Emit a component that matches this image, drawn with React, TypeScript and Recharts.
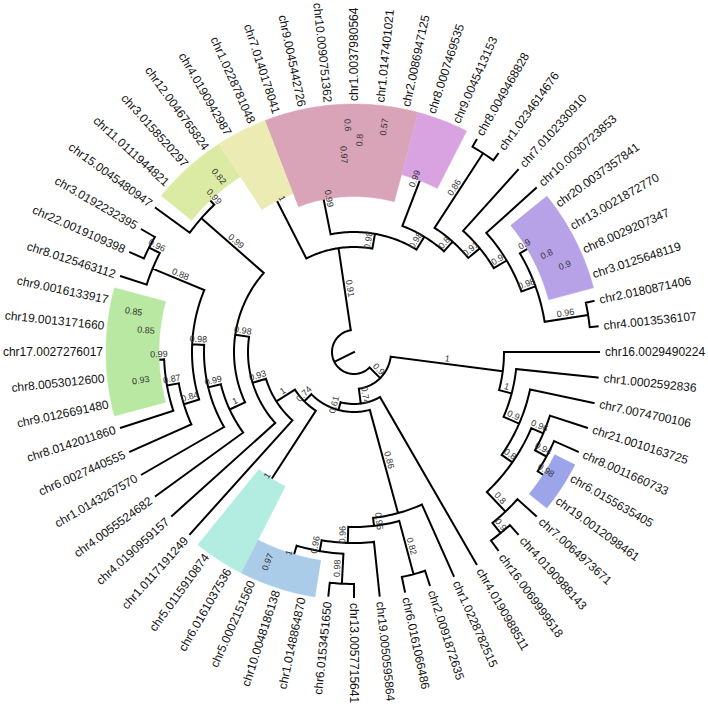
import React from 'react';
import { ComposedChart, Line, Scatter, XAxis, YAxis } from 'recharts';

const leafRadius = 245;
const labelRadius = 251;
const highlightOuter = 248;
const angleStep = 6;
const FONT = '"Liberation Sans", Arial, Helvetica, sans-serif';

// Tree topology: internal nodes written as (children)id|support:radius
const treeNewick = `
(
 (
  (chr16.0029490224,(chr1.0002592836,(chr7.0074700106,((chr21.0010163725,(chr8.0011660733,(chr6.0155635405,chr19.0012098461)U|0.98:232)T|0.94:219)S|0.96:206,(chr7.0064973671,(chr4.0190988143,chr16.0069999518)V|0.9:233)Q|0.8:220)R|0.8:193)N7|0.9:180)N1|1:163)N16|1:150,
  (chr4.0190988511,
   ((chr1.0228782515,((chr2.0091872635,chr6.0161066486)PA|0.82:230,(chr19.0050595864,((chr13.0057715641,chr6.0153451650)Q1|0.98:232,(chr1.0148864870,(chr10.0048186138,chr5.0002151560)P1|0.97:234)B3|1:220)Q3|0.96:202)Q2|0.96:191)Q4|0.95:175)Q5|0.86:167,
    ((chr6.0161037536,chr5.0115910874)TE|1:232,
     (chr1.0117191249,
      (chr4.0190959157,
       ((chr4.0055524682,
         (chr1.0143267570,
          ((chr6.0027440555,(chr8.0142011860,((chr9.0126691480,chr8.0053012600)G93|0.93:230,(chr17.0027276017,(chr19.0013171660,chr9.0016133917)G1|0.85:230)G2|0.85:218)G3|0.99:200)N87|0.87:190)N84|0.84:178,
           (chr8.0125463112,(chr22.0019109398,chr3.0192232395)N96|0.96:230)N88|0.88:218)L1|0.98:162
         )K1|0.99:150
        )K2|1:137,
        (chr15.0045480947,(chr11.0111944821,(chr3.0158520297,chr12.0046765824)C3|0.82:228)C11|0.99:215)C15|0.99:203
       )M|0.98:120
      )W4|0.93:106
     )W3|1:92
    )W2|0.74:70
   )W1|0.61:60
  )B2|0.74:52
 )B|0.9:37,
 (
  (chr4.0190942987,chr1.0228781048)Y1|1:234,
  ((chr7.0140178041,(chr9.0045442726,((chr10.0090751362,chr1.0037980564)PP1|0.6:234,(chr1.0147401021,chr2.0086947125)PP2|0.57:234)P8|0.8:220)P97|0.97:204)PK|0.99:191,
   ((chr8.0007469535,chr9.0045413153)VI|0.99:232,
    ((chr8.0049468828,chr1.0234614676)P86|0.86:237,
     (chr7.0102330910,
      (chr10.0030723853,
       ((chr20.0037357841,(chr13.0021872770,(chr8.0029207347,chr3.0125648119)PU3|0.9:234)PU2|0.8:222)PU1|0.9:210,
        (chr2.0180871406,chr4.0013536107)P96|0.96:237)E1|0.98:193
      )E2|0.9:178
     )E3|0.91:163
    )E4|0.8:148
   )E5|0.98:135
  )A2|0.98:120
 )A|0.91:105
)ROOT|:22`;

const highlightIds = ['C11', 'Y1', 'PK', 'VI', 'PU1', 'G3', 'TE', 'B3', 'U'];
const highlightColors = ['#dcebA3', '#ecebb3', '#d9a3b8', '#d8a3e0', '#b7a2e8', '#b9e8a2', '#b3ece0', '#aacce9', '#9da5ea'];

type TNode = {
  id?: string;
  name?: string;
  support?: string;
  r: number;
  parentR: number;
  angle: number;
  first: number;
  last: number;
  children: TNode[];
};

function parseNewick(src: string): TNode {
  const s = src.replace(/\s+/g, '');
  let i = 0;
  function parseNode(): TNode {
    const node: TNode = { r: leafRadius, parentR: 0, angle: 0, first: 0, last: 0, children: [] };
    if (s[i] === '(') {
      i++;
      node.children.push(parseNode());
      while (s[i] === ',') {
        i++;
        node.children.push(parseNode());
      }
      i++;
    }
    let label = '';
    while (i < s.length && !',():;'.includes(s[i])) label += s[i++];
    if (s[i] === ':') {
      i++;
      let num = '';
      while (i < s.length && !',();'.includes(s[i])) num += s[i++];
      node.r = parseFloat(num);
    }
    if (node.children.length) {
      const parts = label.split('|');
      node.id = parts[0];
      node.support = parts[1] || '';
    } else {
      node.name = label;
      node.r = leafRadius;
    }
    return node;
  }
  return parseNode();
}

const root = parseNewick(treeNewick);
const allNodes: TNode[] = [];
let leafCounter = 0;
function layout(n: TNode, parentR: number) {
  n.parentR = parentR;
  allNodes.push(n);
  if (!n.children.length) {
    n.angle = leafCounter * angleStep;
    n.first = n.angle;
    n.last = n.angle;
    leafCounter++;
    return;
  }
  n.children.forEach((c) => layout(c, n.r));
  n.angle = (n.children[0].angle + n.children[n.children.length - 1].angle) / 2;
  n.first = n.children[0].first;
  n.last = n.children[n.children.length - 1].last;
}
layout(root, 0);

function polar(r: number, deg: number) {
  const a = (deg * Math.PI) / 180;
  return { x: r * Math.cos(a), y: r * Math.sin(a) };
}

// tree edges
const edgeData: { x: number | null; y: number | null }[] = [];
allNodes.forEach((n) => {
  edgeData.push(polar(n.parentR, n.angle), polar(n.r, n.angle), { x: null, y: null });
  if (n.children.length) {
    const a0 = n.children[0].angle;
    const a1 = n.children[n.children.length - 1].angle;
    for (let a = a0; a < a1; a += 1) edgeData.push(polar(n.r, a));
    edgeData.push(polar(n.r, a1), { x: null, y: null });
  }
});

const leafData = allNodes
  .filter((n) => !n.children.length)
  .map((n) => ({ ...polar(labelRadius, n.angle), name: n.name, angle: n.angle }));

const supportData = allNodes
  .filter((n) => n.children.length && n.support)
  .map((n) => ({ ...polar((n.r + n.parentR) / 2, n.angle), label: n.support, angle: n.angle }));

const highlightPolys = highlightIds.map((id, k) => {
  const n = allNodes.find((m) => m.id === id)!;
  const inner = (n.r + n.parentR) / 2;
  const a0 = n.first - angleStep / 2;
  const a1 = n.last + angleStep / 2;
  const pts: { x: number; y: number }[] = [];
  for (let a = a0; a < a1; a += 1) pts.push(polar(highlightOuter, a));
  pts.push(polar(highlightOuter, a1));
  for (let a = a1; a > a0; a -= 1) pts.push(polar(inner, a));
  pts.push(polar(inner, a0));
  return { id, color: highlightColors[k], pts };
});

const LeafLabel = (props: any) => {
  const { cx, cy, payload } = props;
  const a = payload.angle;
  const flip = a > 90 && a < 270;
  const rot = flip ? a - 180 : a;
  return (
    <text
      x={cx}
      y={cy}
      transform={`rotate(${rot} ${cx} ${cy})`}
      textAnchor={flip ? 'end' : 'start'}
      dominantBaseline="central"
      fontSize={12}
      fontFamily={FONT}
      fill="#111"
    >
      {payload.name}
    </text>
  );
};

const SupportLabel = (props: any) => {
  const { cx, cy, payload } = props;
  const a = payload.angle;
  const flip = a > 90 && a < 270;
  const rot = flip ? a - 180 : a;
  return (
    <text
      x={cx}
      y={cy - 2.5}
      transform={`rotate(${rot} ${cx} ${cy})`}
      textAnchor="middle"
      fontSize={9}
      fontFamily={FONT}
      fill="#333"
    >
      {payload.label}
    </text>
  );
};

const Empty = () => <g />;

export default function App() {
  return (
    <div style={{ position: 'absolute', left: 0, top: 0, background: '#fff' }}>
      <ComposedChart width={708} height={706} margin={{ top: 0, right: 0, bottom: 0, left: 0 }}>
        <XAxis type="number" dataKey="x" domain={[-354, 354]} hide allowDataOverflow />
        <YAxis type="number" dataKey="y" domain={[-352, 354]} hide reversed allowDataOverflow />
        {highlightPolys.map((h) => (
          <Scatter
            key={h.id}
            data={h.pts}
            line={{ fill: h.color, stroke: h.color, strokeWidth: 0.5 }}
            shape={Empty}
            isAnimationActive={false}
          />
        ))}
        <Line
          data={edgeData}
          dataKey="y"
          stroke="#000"
          strokeWidth={2}
          strokeLinecap="square"
          dot={false}
          activeDot={false}
          connectNulls={false}
          isAnimationActive={false}
        />
        <Scatter data={supportData} shape={SupportLabel} isAnimationActive={false} />
        <Scatter data={leafData} shape={LeafLabel} isAnimationActive={false} />
      </ComposedChart>
    </div>
  );
}
